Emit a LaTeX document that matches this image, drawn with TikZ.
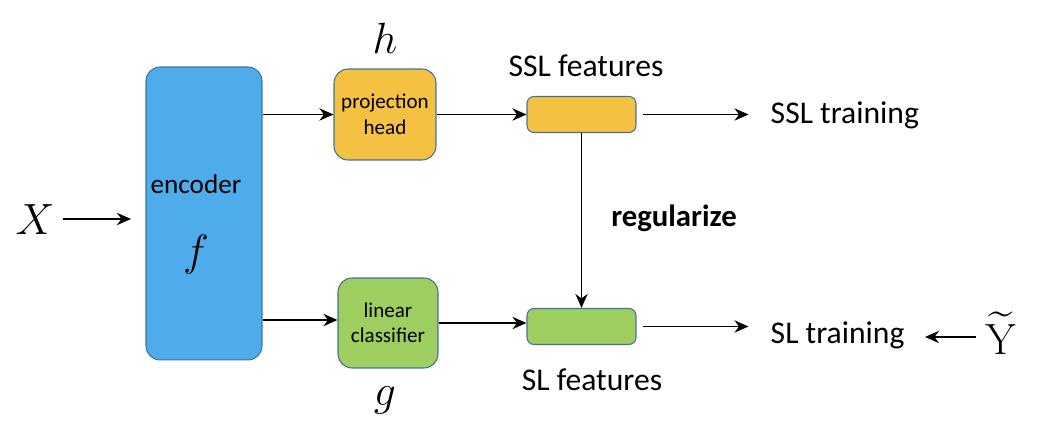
\documentclass[tikz,border=0pt]{standalone}
\usepackage{amsmath}
\usepackage[no-math]{fontspec}
\setmainfont{Carlito}
\usetikzlibrary{arrows.meta,positioning}

\definecolor{encblue}{HTML}{4FACEA}
\definecolor{projorange}{HTML}{F4C142}
\definecolor{clsgreen}{HTML}{9DCE5F}
\definecolor{boxedge}{HTML}{41719C}

\begin{document}
\begin{tikzpicture}[x=0.02cm,y=-0.02cm,>={Stealth[length=8pt,width=7pt]},
        line width=1pt,
        box/.style={draw=boxedge,line width=0.6pt,rounded corners=8pt,align=center,
            inner sep=0pt,font=\fontsize{12}{14.5}\selectfont},
        feat/.style={box,rounded corners=4pt,minimum width=2.18cm,minimum height=0.72cm},
        lbl/.style={font=\fontsize{18}{21}\selectfont},
        sym/.style={font=\fontsize{24}{28}\selectfont}]

  \useasboundingbox (0,0) rectangle (1056,438);

  \node[box,fill=encblue,minimum width=2.32cm,minimum height=5.86cm] (enc) at (204,213.5) {};
  \node[font=\fontsize{15.5}{18}\selectfont] (enctext) at (196,184) {encoder};
  \node[sym] (f) at (196,255) {$f$};

  \node[box,fill=projorange,minimum width=2.04cm,minimum height=1.82cm] (proj) at (385,114.5) {projection\\head};
  \node[sym] (h) at (385,38) {$h$};
  \node[box,fill=clsgreen,minimum width=2.0cm,minimum height=1.8cm] (cls) at (388,323) {linear\\classifier};
  \node[sym] (g) at (385,400) {$g$};

  \node[feat,fill=projorange] (ssl) at (581.5,114.5) {};
  \node[feat,fill=clsgreen] (sl) at (581.5,326.5) {};
  \node[lbl] (sslfeat) at (586,66) {SSL features};
  \node[lbl] (slfeat) at (592,380) {SL features};

  \node[sym] (x) at (35,220) {$X$};
  \node[lbl,anchor=west] (ssltrain) at (764,115) {SSL training};
  \node[lbl,anchor=west] (sltrain) at (764,335) {SL training};
  \node[sym,font=\fontsize{26}{30}\selectfont] (y) at (1001,333) {$\widetilde{\mathrm{Y}}$};
  \node[lbl,font=\fontsize{17.5}{21}\selectfont\bfseries] (reg) at (674,218) {regularize};

  \draw[->] (x.east) ++(2,-1) -- (131,219);
  \draw[->] (enc.east |- proj.west) -- (proj.west);
  \draw[->] (enc.east |- 320,320) -- (cls.west |- 320,320);
  \draw[->] (proj.east) -- (ssl.west);
  \draw[->] (cls.east) -- (cls.east -| sl.west);
  \draw[->] (ssl.east) ++(6,0) -- ++(106,0);
  \draw[->] (sl.east) ++(6,0) -- ++(106,0);
  \draw[->] (ssl.south) -- (sl.north);
  \draw[->] (y.west) ++(-3,4) -- (925,337);

\end{tikzpicture}
\end{document}
